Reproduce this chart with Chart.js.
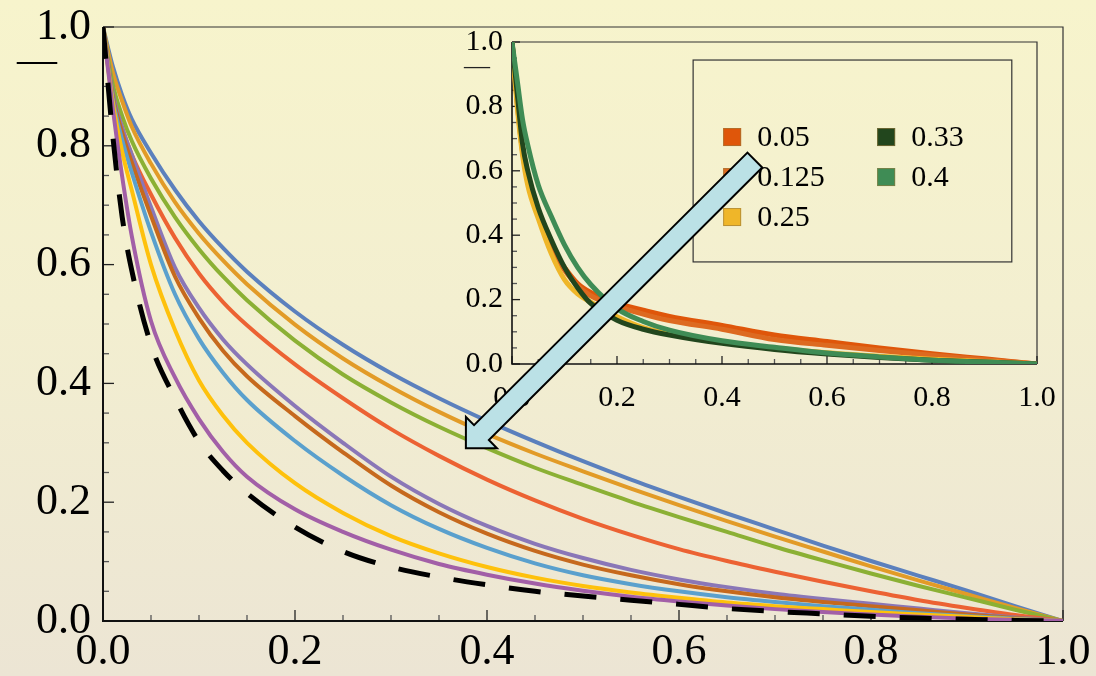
<!DOCTYPE html>
<html><head><meta charset="utf-8">
<script src="https://cdn.jsdelivr.net/npm/chart.js@4"></script>
<style>
html,body{margin:0;padding:0;width:1096px;height:676px;overflow:hidden;
background:linear-gradient(to bottom,#f7f4cc 0%,#f3efd0 45%,#ece5d4 100%);}
#wrap{position:relative;width:1096px;height:676px;}
canvas{position:absolute;}
#main{left:0;top:0;}
#inset{left:440px;top:10px;}
#over{left:0;top:0;pointer-events:none;}
</style></head>
<body><div id="wrap">
<canvas id="main" width="1096" height="676"></canvas>
<canvas id="inset" width="656" height="420"></canvas>
<canvas id="over" width="1096" height="676"></canvas>
</div>
<script>
// ---------- main chart data ----------
const xs = [0,0.01,0.02,0.03,0.05,0.075,0.1,0.125,0.15,0.2,0.25,0.3,0.35,0.4,0.45,0.5,0.55,0.6,0.65,0.7,0.75,0.8,0.85,0.9,0.95,1];
const blueY   = [1,0.935,0.885,0.845,0.788,0.726,0.673,0.628,0.588,0.521,0.465,0.417,0.375,0.337,0.302,0.269,0.238,0.209,0.181,0.154,0.127,0.101,0.076,0.051,0.025,0];
const goldY   = [1,0.925,0.875,0.832,0.770,0.705,0.652,0.607,0.567,0.499,0.442,0.394,0.352,0.315,0.282,0.252,0.223,0.195,0.168,0.142,0.117,0.092,0.068,0.045,0.022,0];
const greenY  = [1,0.905,0.850,0.808,0.745,0.680,0.626,0.580,0.540,0.472,0.415,0.368,0.327,0.291,0.258,0.229,0.201,0.175,0.150,0.125,0.102,0.080,0.059,0.039,0.019,0];
const redY    = [1,0.885,0.830,0.785,0.718,0.645,0.585,0.537,0.498,0.432,0.375,0.323,0.278,0.238,0.203,0.172,0.145,0.121,0.101,0.083,0.066,0.050,0.035,0.022,0.010,0];
const purpleY = [1,0.89,0.83,0.785,0.697,0.595,0.527,0.474,0.432,0.362,0.300,0.243,0.197,0.160,0.130,0.106,0.086,0.070,0.057,0.046,0.037,0.029,0.021,0.013,0.006,0];
const brownY  = [1,0.885,0.822,0.772,0.682,0.580,0.510,0.455,0.412,0.345,0.284,0.228,0.183,0.147,0.118,0.095,0.077,0.062,0.050,0.040,0.032,0.025,0.018,0.011,0.005,0];
const skyY    = [1,0.88,0.81,0.755,0.655,0.550,0.475,0.418,0.372,0.303,0.245,0.195,0.155,0.123,0.097,0.077,0.062,0.050,0.040,0.032,0.025,0.019,0.013,0.008,0.004,0];
const yellowY = [1,0.875,0.79,0.725,0.600,0.490,0.405,0.346,0.300,0.232,0.182,0.143,0.114,0.091,0.073,0.059,0.048,0.039,0.031,0.025,0.020,0.015,0.011,0.007,0.003,0];
const magentaY= [1,0.865,0.748,0.648,0.505,0.410,0.340,0.285,0.243,0.188,0.150,0.120,0.096,0.078,0.063,0.051,0.041,0.033,0.026,0.020,0.015,0.011,0.007,0.004,0.002,0];
const dashedY = [1,0.82,0.68,0.59,0.465,0.375,0.302,0.253,0.215,0.158,0.117,0.091,0.074,0.061,0.050,0.042,0.035,0.028,0.021,0.016,0.012,0.008,0.005,0.003,0.001,0];
const axisTicks = [0,0.2,0.4,0.6,0.8,1.0];

// ---------- inset data ----------
const xsIn = [0,0.01,0.02,0.03,0.05,0.075,0.1,0.125,0.15,0.2,0.25,0.3,0.4,0.5,0.6,0.7,0.8,0.9,1];
const in005  = [1,0.82,0.67,0.58,0.47,0.36,0.30,0.25,0.222,0.188,0.167,0.148,0.120,0.090,0.070,0.050,0.032,0.016,0];
const in0125 = [1,0.81,0.66,0.57,0.46,0.355,0.292,0.243,0.212,0.180,0.155,0.135,0.108,0.076,0.058,0.042,0.027,0.013,0];
const in025  = [1,0.80,0.65,0.555,0.452,0.342,0.262,0.218,0.192,0.147,0.113,0.093,0.068,0.050,0.035,0.024,0.015,0.008,0];
const in033  = [1,0.84,0.685,0.60,0.485,0.385,0.30,0.237,0.188,0.136,0.108,0.090,0.064,0.045,0.031,0.020,0.012,0.006,0];
const in04   = [1,0.88,0.76,0.68,0.556,0.458,0.37,0.30,0.247,0.172,0.132,0.105,0.072,0.052,0.034,0.022,0.012,0.006,0];
const legendLabels = ['0.05','0.125','0.25','0.33','0.4'];

// ---------- styles ----------
const mainSeries = [blueY,goldY,greenY,redY,purpleY,brownY,skyY,yellowY,magentaY,dashedY];
const mainColors = ['#5b80bd','#e29b27','#8bb034','#ec6233','#8a77b7','#c6691d','#5aa0cd','#fec10c','#a25fa7','#000000'];
const insetSeries = [in005,in0125,in025,in033,in04];
const insetColors = ['#df560a','#dd6a20','#efb629','#22461d','#3f8c55'];
const FONT = 'Liberation Serif';

const toPts = (xv, yv) => xv.map((x,i)=>({x:x, y:yv[i]}));

function drawTicksFrame(chart, minorLen, majorLen, axisW) {
  const c = chart.ctx, ca = chart.chartArea, xs_ = chart.scales.x, ys_ = chart.scales.y;
  c.save();
  c.strokeStyle = '#333'; c.lineWidth = 1.2;
  c.beginPath();
  c.moveTo(ca.left, ca.top); c.lineTo(ca.right, ca.top); c.lineTo(ca.right, ca.bottom);
  c.stroke();
  for (let k = 0; k <= 20; k++) {
    const v = k * 0.05;
    const isMaj = (k % 4 === 0);
    const len = isMaj ? majorLen : minorLen;
    c.strokeStyle = isMaj ? '#222' : '#555';
    c.lineWidth = 1.3;
    const px = xs_.getPixelForValue(v), py = ys_.getPixelForValue(v);
    c.beginPath(); c.moveTo(px, ca.bottom); c.lineTo(px, ca.bottom - len); c.stroke();
    c.beginPath(); c.moveTo(ca.left, py); c.lineTo(ca.left + len, py); c.stroke();
  }
  c.strokeStyle = '#111'; c.lineWidth = axisW;
  c.beginPath();
  c.moveTo(ca.left, ca.top); c.lineTo(ca.left, ca.bottom); c.lineTo(ca.right, ca.bottom);
  c.stroke();
  c.restore();
}

const mainFrame = {
  id: 'mainFrame',
  beforeDatasetsDraw(chart) {
    drawTicksFrame(chart, 6, 11, 2);
    const c = chart.ctx;
    c.save(); c.fillStyle = '#000'; c.font = '40px "' + FONT + '"';
    c.textAlign = 'center'; c.textBaseline = 'alphabetic';
    c.fillText('\u2014', 37, 72);
    c.restore();
  },
  afterDraw(chart) {
    const ov = document.getElementById('over').getContext('2d');
    ov.clearRect(0,0,1096,676);
    const sx = chart.scales.x, sy = chart.scales.y;
    const T = {x: sx.getPixelForValue(0.679), y: sy.getPixelForValue(0.776)};
    const P = {x: sx.getPixelForValue(0.378), y: sy.getPixelForValue(0.291)};
    const dx = P.x - T.x, dy = P.y - T.y, L = Math.hypot(dx, dy);
    const u = {x: dx/L, y: dy/L}, n = {x: -u.y, y: u.x};
    const hw = 10.5, hh = 22, hl = 22;
    const B = {x: P.x - u.x*hl, y: P.y - u.y*hl};
    const pts = [
      [T.x + n.x*hw, T.y + n.y*hw], [B.x + n.x*hw, B.y + n.y*hw], [B.x + n.x*hh, B.y + n.y*hh],
      [P.x, P.y], [B.x - n.x*hh, B.y - n.y*hh], [B.x - n.x*hw, B.y - n.y*hw], [T.x - n.x*hw, T.y - n.y*hw]
    ];
    ov.save();
    ov.beginPath();
    pts.forEach((p,i)=> i ? ov.lineTo(p[0],p[1]) : ov.moveTo(p[0],p[1]));
    ov.closePath();
    ov.fillStyle = '#bbe1e6'; ov.fill();
    ov.lineWidth = 2; ov.strokeStyle = '#000'; ov.lineJoin = 'miter'; ov.stroke();
    ov.restore();
  }
};

const mainDatasets = mainSeries.map((s,i)=>({
  data: toPts(xs, s), borderColor: mainColors[i], borderWidth: i===9 ? 5 : 4,
  borderDash: i===9 ? [32,24] : [], pointRadius: 0, fill: false,
  cubicInterpolationMode: 'monotone', borderCapStyle: 'butt'
})).reverse();

new Chart(document.getElementById('main'), {
  type: 'line',
  data: { datasets: mainDatasets },
  options: {
    responsive: false, animation: false, events: [],
    plugins: { legend: {display:false}, tooltip: {enabled:false} },
    layout: { padding: {top:27, right:33, left:0, bottom:0} },
    scales: {
      x: { type:'linear', min:0, max:1,
        afterFit: s => { s.height = 55; },
        afterBuildTicks: s => { s.ticks = axisTicks.map(v=>({value:v})); },
        grid: {display:false, drawTicks:false}, border: {display:false},
        ticks: { padding: 5, color:'#000', maxRotation:0, autoSkip:false,
          font: {family: FONT, size: 44}, callback: v => Number(v).toFixed(1) } },
      y: { type:'linear', min:0, max:1,
        afterFit: s => { s.width = 103; },
        afterBuildTicks: s => { s.ticks = axisTicks.map(v=>({value:v})); },
        grid: {display:false, drawTicks:false}, border: {display:false},
        ticks: { padding: 12, color:'#000', autoSkip:false,
          font: {family: FONT, size: 44, lineHeight: 0.6}, callback: v => Number(v).toFixed(1) } }
    }
  },
  plugins: [mainFrame]
});

// ---------- inset ----------
const insetFrame = {
  id: 'insetFrame',
  beforeDatasetsDraw(chart) {
    drawTicksFrame(chart, 5, 8, 1.6);
    const c = chart.ctx;
    c.save(); c.fillStyle = '#222'; c.font = '26px "' + FONT + '"';
    c.textAlign = 'center'; c.textBaseline = 'alphabetic';
    c.fillText('\u2014', 37, 64);
    c.restore();
  },
  afterDraw(chart) {
    const c = chart.ctx, sx = chart.scales.x, sy = chart.scales.y;
    c.save();
    const bx0 = sx.getPixelForValue(0.345), bx1 = sx.getPixelForValue(0.952);
    const by0 = sy.getPixelForValue(0.944), by1 = sy.getPixelForValue(0.317);
    c.strokeStyle = '#333'; c.lineWidth = 1.2;
    c.strokeRect(bx0, by0, bx1 - bx0, by1 - by0);
    const colX = [bx0 + 30, bx0 + 184];
    const rowY = [by0 + 77, by0 + 117, by0 + 157];
    c.font = '30px "' + FONT + '"'; c.textBaseline = 'middle'; c.textAlign = 'left';
    legendLabels.forEach((lab, i) => {
      const col = i < 3 ? 0 : 1, row = i < 3 ? i : i - 3;
      const x = colX[col], y = rowY[row];
      c.fillStyle = insetColors[i];
      c.fillRect(x, y - 9, 18, 18);
      c.strokeStyle = 'rgba(150,120,60,0.6)'; c.lineWidth = 1;
      c.strokeRect(x + 0.5, y - 8.5, 17, 17);
      c.fillStyle = '#000';
      c.fillText(lab, x + 34, y + 1);
    });
    c.restore();
  }
};

const insetDatasets = insetSeries.map((s,i)=>({
  data: toPts(xsIn, s), borderColor: insetColors[i], borderWidth: 5,
  pointRadius: 0, fill: false, cubicInterpolationMode: 'monotone'
})).reverse();

new Chart(document.getElementById('inset'), {
  type: 'line',
  data: { datasets: insetDatasets },
  options: {
    responsive: false, animation: false, events: [],
    plugins: { legend: {display:false}, tooltip: {enabled:false} },
    layout: { padding: {top:32, right:59, left:0, bottom:0} },
    scales: {
      x: { type:'linear', min:0, max:1,
        afterFit: s => { s.height = 66; },
        afterBuildTicks: s => { s.ticks = axisTicks.map(v=>({value:v})); },
        grid: {display:false, drawTicks:false}, border: {display:false},
        ticks: { padding: 16, color:'#000', maxRotation:0, autoSkip:false,
          font: {family: FONT, size: 30}, callback: v => Number(v).toFixed(1) } },
      y: { type:'linear', min:0, max:1,
        afterFit: s => { s.width = 72; },
        afterBuildTicks: s => { s.ticks = axisTicks.map(v=>({value:v})); },
        grid: {display:false, drawTicks:false}, border: {display:false},
        ticks: { padding: 9, color:'#000', autoSkip:false,
          font: {family: FONT, size: 30}, callback: v => Number(v).toFixed(1) } }
    }
  },
  plugins: [insetFrame]
});
</script>
</body></html>
